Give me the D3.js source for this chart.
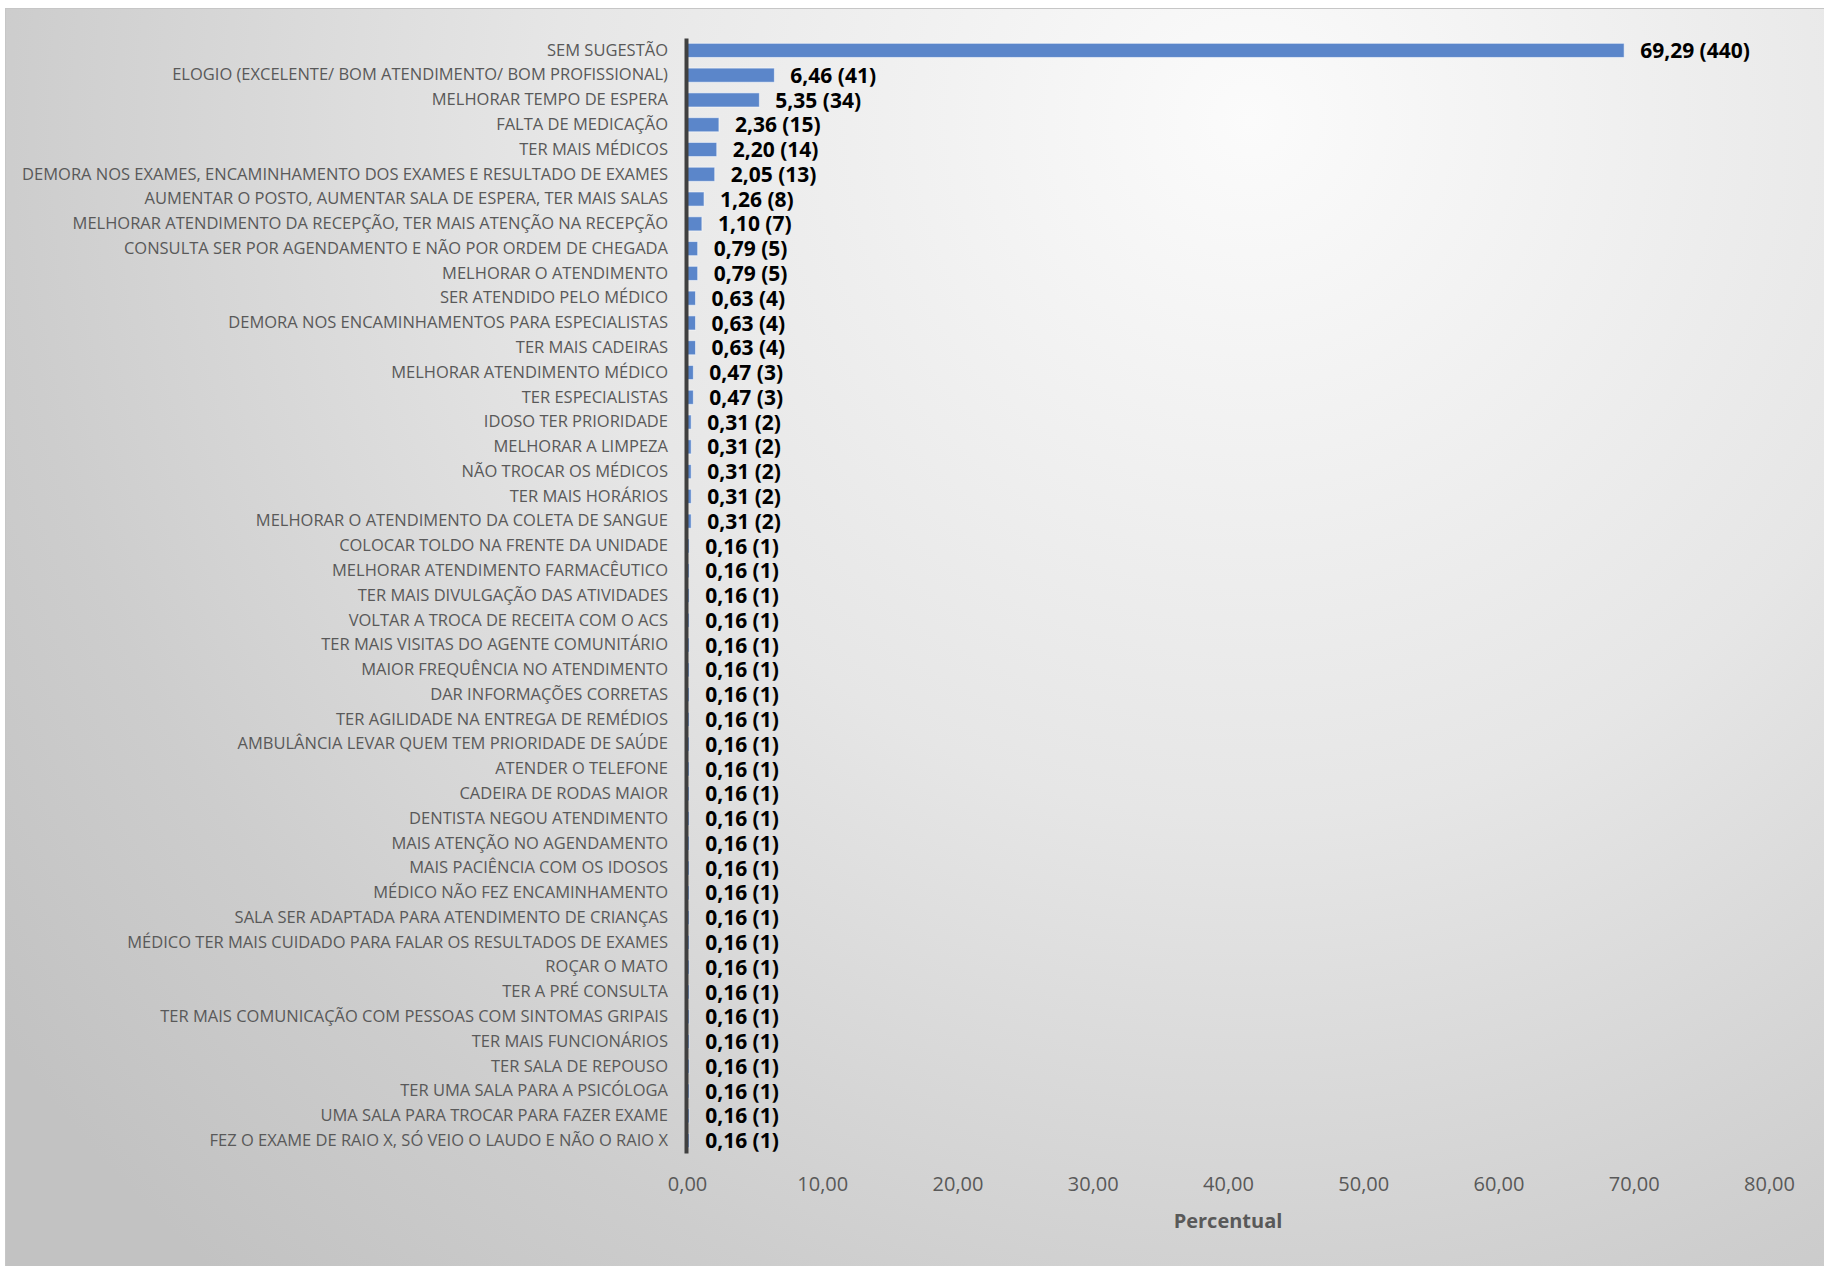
<!DOCTYPE html>
<html>
<head>
<meta charset="utf-8">
<script src="https://cdn.jsdelivr.net/npm/d3@7"></script>
<style>
  html, body { margin: 0; padding: 0; background: #ffffff; }
  svg { display: block; }
</style>
</head>
<body>
<svg id="chart" width="1824" height="1266"></svg>
<script>
const categorias = [
  "SEM SUGESTÃO",
  "ELOGIO (EXCELENTE/ BOM ATENDIMENTO/ BOM PROFISSIONAL)",
  "MELHORAR TEMPO DE ESPERA",
  "FALTA DE MEDICAÇÃO",
  "TER MAIS MÉDICOS",
  "DEMORA NOS EXAMES, ENCAMINHAMENTO DOS EXAMES E RESULTADO DE EXAMES",
  "AUMENTAR O POSTO, AUMENTAR SALA DE ESPERA, TER MAIS SALAS",
  "MELHORAR ATENDIMENTO DA RECEPÇÃO, TER MAIS ATENÇÃO NA RECEPÇÃO",
  "CONSULTA SER POR AGENDAMENTO E NÃO POR ORDEM DE CHEGADA",
  "MELHORAR O ATENDIMENTO",
  "SER ATENDIDO PELO MÉDICO",
  "DEMORA NOS ENCAMINHAMENTOS PARA ESPECIALISTAS",
  "TER MAIS CADEIRAS",
  "MELHORAR ATENDIMENTO MÉDICO",
  "TER ESPECIALISTAS",
  "IDOSO TER PRIORIDADE",
  "MELHORAR A LIMPEZA",
  "NÃO TROCAR OS MÉDICOS",
  "TER MAIS HORÁRIOS",
  "MELHORAR O ATENDIMENTO DA COLETA DE SANGUE",
  "COLOCAR TOLDO NA FRENTE DA UNIDADE",
  "MELHORAR ATENDIMENTO FARMACÊUTICO",
  "TER MAIS DIVULGAÇÃO DAS ATIVIDADES",
  "VOLTAR A TROCA DE RECEITA COM O ACS",
  "TER MAIS VISITAS DO AGENTE COMUNITÁRIO",
  "MAIOR FREQUÊNCIA NO ATENDIMENTO",
  "DAR INFORMAÇÕES CORRETAS",
  "TER AGILIDADE NA ENTREGA DE REMÉDIOS",
  "AMBULÂNCIA LEVAR QUEM TEM PRIORIDADE DE SAÚDE",
  "ATENDER O TELEFONE",
  "CADEIRA DE RODAS MAIOR",
  "DENTISTA NEGOU ATENDIMENTO",
  "MAIS ATENÇÃO NO AGENDAMENTO",
  "MAIS PACIÊNCIA COM OS IDOSOS",
  "MÉDICO NÃO FEZ ENCAMINHAMENTO",
  "SALA SER ADAPTADA PARA ATENDIMENTO DE CRIANÇAS",
  "MÉDICO TER MAIS CUIDADO PARA FALAR OS RESULTADOS DE EXAMES",
  "ROÇAR O MATO",
  "TER A PRÉ CONSULTA",
  "TER MAIS COMUNICAÇÃO COM PESSOAS COM SINTOMAS GRIPAIS",
  "TER MAIS FUNCIONÁRIOS",
  "TER SALA DE REPOUSO",
  "TER UMA SALA PARA A PSICÓLOGA",
  "UMA SALA PARA TROCAR PARA FAZER EXAME",
  "FEZ O EXAME DE RAIO X, SÓ VEIO O LAUDO E NÃO O RAIO X"
];

const percentuais = [
  69.29, 6.46, 5.35, 2.36, 2.20, 2.05, 1.26, 1.10, 0.79, 0.79,
  0.63, 0.63, 0.63, 0.47, 0.47, 0.31, 0.31, 0.31, 0.31, 0.31,
  0.16, 0.16, 0.16, 0.16, 0.16, 0.16, 0.16, 0.16, 0.16, 0.16,
  0.16, 0.16, 0.16, 0.16, 0.16, 0.16, 0.16, 0.16, 0.16, 0.16,
  0.16, 0.16, 0.16, 0.16, 0.16
];

const contagens = [
  440, 41, 34, 15, 14, 13, 8, 7, 5, 5,
  4, 4, 4, 3, 3, 2, 2, 2, 2, 2,
  1, 1, 1, 1, 1, 1, 1, 1, 1, 1,
  1, 1, 1, 1, 1, 1, 1, 1, 1, 1,
  1, 1, 1, 1, 1
];

const ticksX = [0, 10, 20, 30, 40, 50, 60, 70, 80];
const tituloX = "Percentual";

const dados = categorias.map((c, i) => ({ cat: c, pct: percentuais[i], n: contagens[i] }));

const locale = d3.formatLocale({ decimal: ",", thousands: ".", grouping: [3], currency: ["R$", ""] });
const fmt = locale.format(".2f");

const svg = d3.select("#chart");
const W = 1824, H = 1266;

// background gradient
const defs = svg.append("defs");
const grad = defs.append("radialGradient")
  .attr("id", "bg")
  .attr("gradientUnits", "userSpaceOnUse")
  .attr("cx", 1250).attr("cy", 120).attr("r", 1550)
  .attr("fx", 1250).attr("fy", 120);
grad.append("stop").attr("offset", 0).attr("stop-color", "#fbfbfb");
grad.append("stop").attr("offset", 0.45).attr("stop-color", "#e6e6e6");
grad.append("stop").attr("offset", 0.8).attr("stop-color", "#cdcdcd");
grad.append("stop").attr("offset", 1).attr("stop-color", "#c2c2c2");

svg.append("rect").attr("x", 0).attr("y", 0).attr("width", W).attr("height", H).attr("fill", "#ffffff");
svg.append("rect").attr("x", 5.5).attr("y", 8.5).attr("width", W).attr("height", H)
  .attr("fill", "url(#bg)").attr("stroke", "#c6c6c6").attr("stroke-width", 1);

const x = d3.scaleLinear().domain([0, 80]).range([687, 1769]);
const y = d3.scaleBand().domain(categorias).range([38, 1153]).paddingInner(0.43).paddingOuter(0.215);

// bars
svg.append("g").selectAll("rect")
  .data(dados)
  .join("rect")
  .attr("x", x(0))
  .attr("y", d => y(d.cat))
  .attr("width", d => x(d.pct) - x(0))
  .attr("height", y.bandwidth())
  .attr("fill", "#5b86ca")
  .attr("stroke", "rgba(255,255,255,0.55)")
  .attr("stroke-width", 1);

// category axis
const yAxis = svg.append("g")
  .attr("transform", `translate(${x(0) - 1},0)`)
  .call(d3.axisLeft(y).tickSize(0).tickSizeOuter(0).tickPadding(18));
yAxis.select(".domain").attr("stroke", "#404040").attr("stroke-width", 4);
yAxis.selectAll("text")
  .attr("font-family", "'Open Sans', sans-serif")
  .attr("font-size", 16.5)
  .attr("fill", "#595959");

// value axis
const xAxis = svg.append("g")
  .attr("transform", "translate(0,1153)")
  .call(d3.axisBottom(x).tickValues(ticksX).tickFormat(fmt).tickSize(0).tickPadding(24));
xAxis.select(".domain").remove();
xAxis.selectAll("text")
  .attr("font-family", "'Open Sans', sans-serif")
  .attr("font-size", 20)
  .attr("fill", "#595959");

// data labels
svg.append("g").selectAll("text")
  .data(dados)
  .join("text")
  .attr("x", d => x(d.pct) + 16)
  .attr("y", d => y(d.cat) + y.bandwidth() / 2)
  .attr("dy", "0.36em")
  .attr("font-family", "'Open Sans', sans-serif")
  .attr("font-weight", "bold")
  .attr("font-size", 21)
  .attr("fill", "#000000")
  .text(d => `${fmt(d.pct)} (${d.n})`);

// axis title
svg.append("text")
  .attr("x", (x(0) + x(80)) / 2)
  .attr("y", 1228)
  .attr("text-anchor", "middle")
  .attr("font-family", "'Open Sans', sans-serif")
  .attr("font-weight", "bold")
  .attr("font-size", 20)
  .attr("fill", "#595959")
  .text(tituloX);
</script>
</body>
</html>
